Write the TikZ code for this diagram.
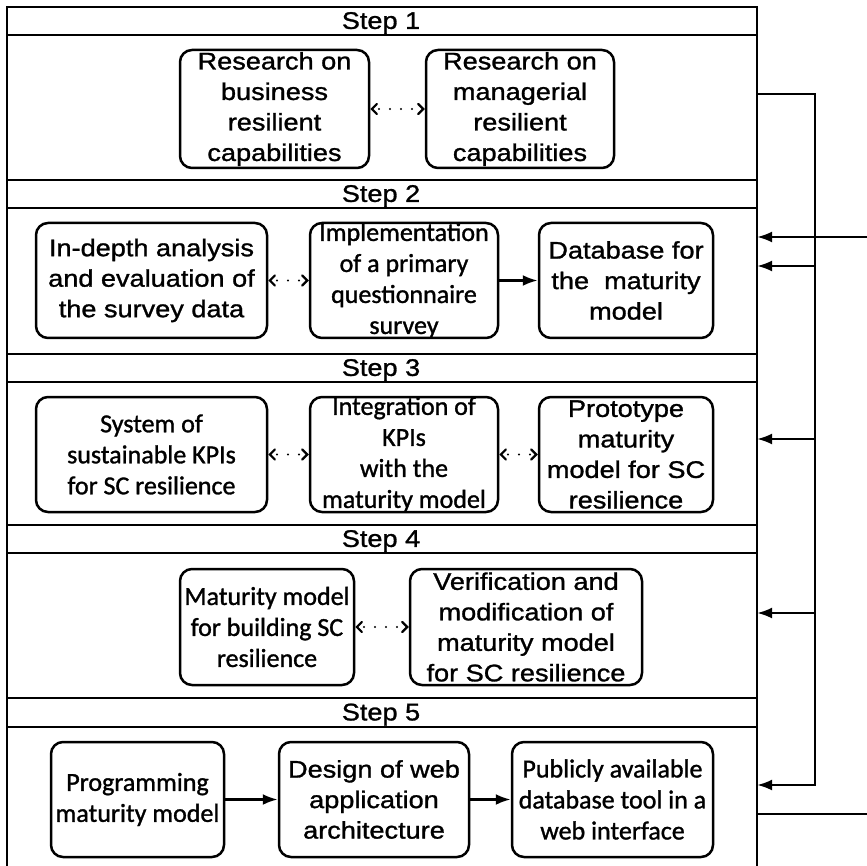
\documentclass[tikz,border=0pt]{standalone}
\usepackage{fontspec}
\setmainfont[FakeStretch=1.13,FakeBold=1.2]{Liberation Sans}
\newfontfamily\calib[FakeBold=1.2]{Carlito}
\usetikzlibrary{arrows.meta}

\begin{document}
\begin{tikzpicture}[x=1pt,y=-1pt,
  frame/.style={line width=2.6pt},
  box/.style={draw,line width=2.5pt,rounded corners=12pt,inner sep=0pt},
  ar/.style={align=center,inner sep=0pt,font=\fontsize{24}{30.5}\selectfont},
  ca/.style={align=center,inner sep=0pt,font=\calib\fontsize{26}{31}\selectfont},
  dots/.style={line width=2.2pt,line cap=round,dash pattern=on 0pt off 11pt,dash phase=5pt,
    {Straight Barb[length=5pt,width=10pt,line cap=round]}-{Straight Barb[length=5pt,width=10pt,line cap=round]}},
  flow/.style={line width=2.6pt,-{Latex[length=15pt,width=11pt]}},
  wire/.style={line width=2.6pt}]

 \useasboundingbox (0,0) rectangle (867,866);

 % frame and step bars
 \draw[frame] (7,875) -- (7,7) -- (757,7) -- (757,875);
 \foreach \y in {35,180,208,354,382,525,553,698,727}
   \draw[frame] (7,\y) -- (757,\y);

 \node[ar] (h1) at (381,23) {Step 1};
 \node[ar] (h2) at (381,196) {Step 2};
 \node[ar] (h3) at (381,370) {Step 3};
 \node[ar] (h4) at (381,541) {Step 4};
 \node[ar] (h5) at (381,714.5) {Step 5};

 % step 1
 \node[box,minimum width=189pt,minimum height=118pt,
   label={[ar]center:Research on\\business\\resilient\\capabilities}] (s1a) at (274.5,109) {};
 \node[box,minimum width=188pt,minimum height=118pt,
   label={[ar]center:Research on\\managerial\\resilient\\capabilities}] (s1b) at (520,109) {};
 \draw[dots] (s1a) -- (s1b);

 % step 2
 \node[box,minimum width=231pt,minimum height=115pt,
   label={[ar]center:In-depth analysis\\and evaluation of\\the survey data}] (s2a) at (151.5,280.5) {};
 \node[box,minimum width=188pt,minimum height=115pt,
   label={[ca]center:Implementation\\of a primary\\questionnaire\\survey}] (s2b) at (404,280.5) {};
 \node[box,minimum width=174pt,minimum height=115pt,
   label={[ar]center:Database for\\the~~maturity\\model}] (s2c) at (626,280.5) {};
 \draw[dots] (s2a) -- (s2b);
 \draw[flow] (s2b) -- (s2c);

 % step 3
 \node[box,minimum width=231pt,minimum height=115pt,
   label={[ca]center:System of\\sustainable KPIs\\for SC resilience}] (s3a) at (151.5,454.5) {};
 \node[box,minimum width=188pt,minimum height=115pt,
   label={[ca]center:Integration of\\KPIs\\with the\\maturity model}] (s3b) at (404,454.5) {};
 \node[box,minimum width=174pt,minimum height=115pt,
   label={[ar]center:Prototype\\maturity\\model for SC\\resilience}] (s3c) at (626,454.5) {};
 \draw[dots] (s3a) -- (s3b);
 \draw[dots] (s3b) -- (s3c);

 % step 4
 \node[box,minimum width=174pt,minimum height=116pt,
   label={[ca]center:Maturity model\\for building SC\\resilience}] (s4a) at (267,627) {};
 \node[box,minimum width=232pt,minimum height=116pt,
   label={[ar]center:Verification and\\modification of\\maturity model\\for SC resilience}] (s4b) at (526,627) {};
 \draw[dots] (s4a) -- (s4b);

 % step 5
 \node[box,minimum width=173pt,minimum height=115pt,
   label={[ca]center:Programming\\maturity model}] (s5a) at (137.5,799.5) {};
 \node[box,minimum width=190pt,minimum height=115pt,
   label={[ar]center:Design of web\\application\\architecture}] (s5b) at (374,799.5) {};
 \node[box,minimum width=201pt,minimum height=115pt,
   label={[ca]center:Publicly available\\database tool in a\\web interface}] (s5c) at (612.5,799.5) {};
 \draw[flow] (s5a) -- (s5b);
 \draw[flow] (s5b) -- (s5c);

 % feedback lines on the right
 \coordinate (f1) at (757,94);
 \coordinate (f2a) at (757,237);
 \coordinate (f2b) at (757,266);
 \coordinate (f3) at (757,439);
 \coordinate (f4) at (757,613);
 \coordinate (f5a) at (757,785);
 \coordinate (f5b) at (757,814);
 \coordinate (b1) at (815,94);
 \coordinate (b5) at (815,785);
 \coordinate (e2) at (870,237);
 \coordinate (e5) at (870,814);

 \draw[flow] (f1) -- (b1) -- (b5) -- (f5a);
 \draw[flow] (e2) -- (f2a);
 \draw[flow] (b1 |- f2b) -- (f2b);
 \draw[flow] (b1 |- f3) -- (f3);
 \draw[flow] (b1 |- f4) -- (f4);
 \draw[wire] (f5b) -- (e5);

\end{tikzpicture}
\end{document}
